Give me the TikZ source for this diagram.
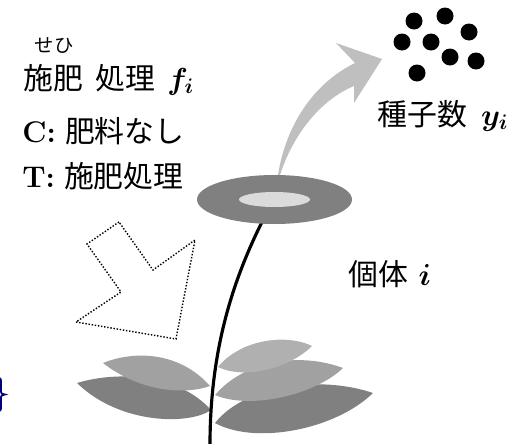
\documentclass[tikz,border=0pt]{standalone}
\usepackage{amsmath}
\usepackage{fontspec}
\newfontfamily\jp{Noto Sans CJK JP}
\definecolor{braceblue}{RGB}{0,0,128}

\begin{document}
\begin{tikzpicture}[x=0.02cm,y=-0.02cm,
    every node/.style={inner sep=0pt,font=\fontsize{17}{20}\selectfont},
    txt/.style={anchor=base west},
    leafdark/.style={fill=black!50},
    leafmid/.style={fill=black!37},
    leaflight/.style={fill=black!31}]
      \useasboundingbox (0,0) rectangle (514,443);
      \node[anchor=base,font=\fontsize{11}{12}\selectfont] (ruby) at (54,52) {\jp せひ};
      \node[txt] (treat) at (23,89) {\jp 施肥\hspace{7pt}処理\hspace{7pt}$\boldsymbol{f_i}$};
      \node[txt] (ctrl) at (22,142) {\textbf{C:} \jp 肥料なし};
      \node[txt] (fert) at (22,187) {\textbf{T:} \jp 施肥処理};
      \node[txt] (seeds) at (377,125) {\jp 種子数\hspace{8pt}$\boldsymbol{y_i}$};
      \node[txt] (indiv) at (348,285) {\jp 個体\hspace{6pt}$\boldsymbol{i}$};
      \foreach \sx/\sy in {414/21,445/16,469/32,402/42,431/42,450/57,476/61,417/73}
        \fill (\sx,\sy) circle (8.5);
      \fill[black!25] (278,175) .. controls (285,130) and (310,85) .. (355,63) -- (336,43)
        -- (382,59) -- (354,103) -- (354,86) .. controls (320,100) and (293,135) .. (280,175) -- cycle;
      \draw[densely dotted,line width=0.8pt] (119,222) -- (87,244) -- (121,292) -- (76,322)
        -- (176,339) -- (195,240) -- (153,270) -- cycle;
      \fill[leafdark] (77,383) .. controls (120,370) and (180,375) .. (211,410)
        .. controls (190,425) and (120,425) .. (77,383);
      \fill[leafmid] (103,363) .. controls (135,350) and (180,352) .. (210,386)
        .. controls (185,395) and (140,392) .. (103,363);
      \fill[leafdark] (215,423) .. controls (245,385) and (320,375) .. (373,393)
        .. controls (335,430) and (255,445) .. (215,423);
      \fill[leafmid] (215,395) .. controls (245,360) and (300,352) .. (343,368)
        .. controls (315,395) and (250,410) .. (215,395);
      \fill[leaflight] (218,367) .. controls (240,340) and (285,333) .. (312,346)
        .. controls (290,368) and (245,380) .. (218,367);
      \draw[line width=1.8pt] (262,222) .. controls (228,290) and (210,360) .. (210,445);
      \fill[black!50] (274.5,199.5) ellipse [x radius=77.5,y radius=24.5];
      \fill[black!14] (274.5,199.5) ellipse [x radius=35.5,y radius=7.5];
      \draw[braceblue,line width=1pt] (-4,378) .. controls (1,378) .. (1,383) -- (1,390)
        .. controls (1,393.5) .. (5,394.5) .. controls (1,395.5) .. (1,399) -- (1,406)
        .. controls (1,411) .. (-4,411);
    \end{tikzpicture}
\end{document}
